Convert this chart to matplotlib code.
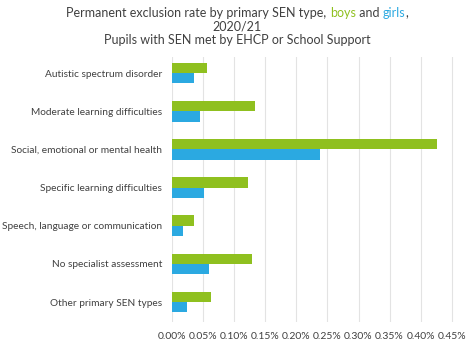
import matplotlib
matplotlib.use("Agg")
import matplotlib.pyplot as plt
import numpy as np
from matplotlib.offsetbox import TextArea, HPacker, AnnotationBbox
from matplotlib.ticker import FuncFormatter

plt.rcParams["font.family"] = ["Lato", "DejaVu Sans"]

categories = [
    "Autistic spectrum disorder",
    "Moderate learning difficulties",
    "Social, emotional or mental health",
    "Specific learning difficulties",
    "Speech, language or communication",
    "No specialist assessment",
    "Other primary SEN types",
]
boys = [0.057, 0.134, 0.426, 0.122, 0.036, 0.129, 0.063]
girls = [0.036, 0.045, 0.238, 0.052, 0.017, 0.060, 0.024]
ticks = [0.00, 0.05, 0.10, 0.15, 0.20, 0.25, 0.30, 0.35, 0.40, 0.45]

GREEN = "#8fc01f"
BLUE = "#2ba9e1"
TXT = "#404040"

fig = plt.figure(figsize=(4.74, 3.44), dpi=100)
ax = fig.add_axes([0.363, 0.064, 0.598, 0.77])

y = np.arange(len(categories))
h = 0.27
ax.barh(y - h / 2, boys, height=h, color=GREEN)
ax.barh(y + h / 2, girls, height=h, color=BLUE)

ax.set_ylim(len(categories) - 0.48, -0.42)
ax.set_xlim(0, 0.456)
ax.set_yticks(y)
ax.set_yticklabels(categories)
ax.set_xticks(ticks)
ax.xaxis.set_major_formatter(FuncFormatter(lambda v, p: f"{v:.2f}%"))
ax.tick_params(axis="both", length=0, labelsize=7.5, colors=TXT)
ax.tick_params(axis="y", pad=7, labelsize=7.3)
ax.tick_params(axis="x", pad=7)
ax.grid(axis="x", color="#e3e3e3", linewidth=0.8)
ax.set_axisbelow(True)
for s in ax.spines.values():
    s.set_visible(False)

# title with coloured words
fs = 9
parts = [
    ("Permanent exclusion rate by primary SEN type, ", TXT),
    ("boys", GREEN),
    (" and ", TXT),
    ("girls", BLUE),
    (",", TXT),
]
line1 = HPacker(
    children=[TextArea(t, textprops=dict(color=c, fontsize=fs)) for t, c in parts],
    pad=0, sep=0,
)
ab = AnnotationBbox(line1, (0.5, 1 - 13 / 344), xycoords="figure fraction",
                    frameon=False, box_alignment=(0.5, 0.5))
fig.add_artist(ab)
fig.text(0.5, 1 - 26.5 / 344, "2020/21", ha="center", va="center", fontsize=fs, color=TXT)
fig.text(0.5, 1 - 40 / 344, "Pupils with SEN met by EHCP or School Support",
         ha="center", va="center", fontsize=fs, color=TXT)

fig.savefig("out.png", dpi=100, facecolor="white")
